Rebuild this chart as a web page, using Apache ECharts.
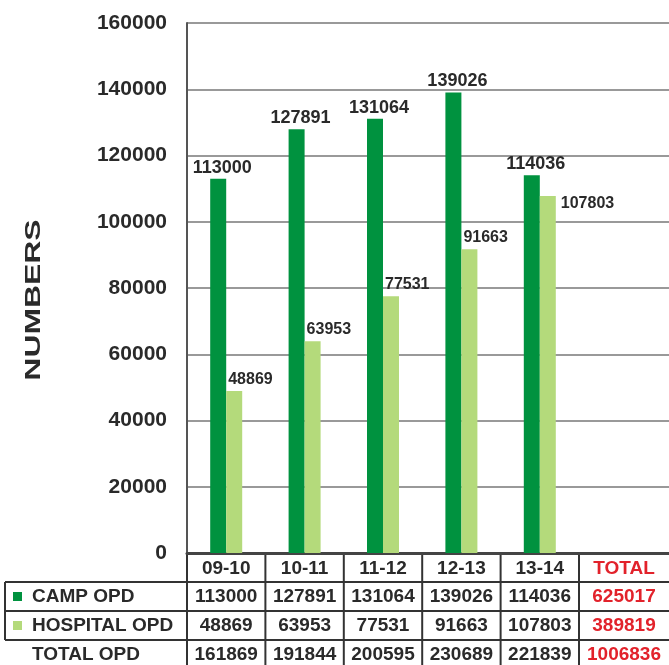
<!DOCTYPE html>
<html>
<head>
<meta charset="utf-8">
<script src="https://cdn.jsdelivr.net/npm/echarts@6/dist/echarts.min.js"></script>
<style>
  html, body { margin: 0; padding: 0; background: #fff; }
  #main { width: 669px; height: 665px; }
</style>
</head>
<body>
<div id="main"></div>
<script>
// values
const categories = ['09-10', '10-11', '11-12', '12-13', '13-14'];
const campOpd = [113000, 127891, 131064, 139026, 114036];
const hospitalOpd = [48869, 63953, 77531, 91663, 107803];
const totalOpd = [161869, 191844, 200595, 230689, 221839];
const totalHeader = ['TOTAL'];
const rowNames = ['CAMP OPD', 'HOSPITAL OPD', 'TOTAL OPD'];
const rowTotals = [625017, 389819, 1006836];
const yMin = 0, yMax = 160000, yStep = 20000;

const DARK = '#00923f';
const LIGHT = '#b4da7b';
const RED = '#e2222b';
const INK = '#2a2a2a';
const FONT = '"Liberation Sans", Arial, sans-serif';

// layout
const plotLeft = 187, plotTop = 23, plotH = 530, colW = 78.4;
const plotW = colW * categories.length;
const axisY = plotTop + plotH;
const rowTop = [582, 611, 640], rowH = 29;

var chart = echarts.init(document.getElementById('main'));

var gridLine = {lineStyle: {color: '#777', width: 1.5}};

var option = {
    animation: false,
    backgroundColor: '#fff',
    grid: [
        {left: plotLeft, top: plotTop, width: plotW, height: plotH},
        {left: plotLeft + plotW, top: plotTop, width: 669 - plotLeft - plotW, height: plotH}
    ],
    xAxis: [{
        type: 'category',
        gridIndex: 0,
        data: categories,
        axisLine: {lineStyle: {color: '#444', width: 3}},
        axisTick: {show: false},
        axisLabel: {color: INK, fontSize: 19, fontWeight: 'bold', fontFamily: FONT, margin: 6}
    }, {
        type: 'category',
        gridIndex: 1,
        data: totalHeader,
        axisLine: {lineStyle: {color: '#444', width: 3}},
        axisTick: {show: false},
        axisLabel: {color: RED, fontSize: 19, fontWeight: 'bold', fontFamily: FONT, margin: 6}
    }],
    yAxis: [{
        type: 'value',
        gridIndex: 0,
        min: yMin,
        max: yMax,
        interval: yStep,
        axisLine: {show: true, lineStyle: {color: '#555', width: 2}},
        axisTick: {show: false},
        splitLine: gridLine,
        axisLabel: {
            color: INK, fontSize: 21, fontWeight: 'bold', fontFamily: FONT, margin: 20,
            formatter: function (v) { return String(v); }
        }
    }, {
        type: 'value',
        gridIndex: 1,
        min: yMin,
        max: yMax,
        interval: yStep,
        axisLine: {show: false},
        axisTick: {show: false},
        axisLabel: {show: false},
        splitLine: gridLine
    }],
    series: [{
        name: 'CAMP OPD',
        type: 'bar',
        xAxisIndex: 0,
        yAxisIndex: 0,
        data: campOpd,
        barWidth: 16,
        barGap: '0%',
        itemStyle: {color: DARK},
        label: {
            show: true,
            position: 'top',
            distance: 2,
            offset: [4, 0],
            color: INK,
            fontSize: 18,
            fontWeight: 'bold',
            fontFamily: FONT
        }
    }, {
        name: 'HOSPITAL OPD',
        type: 'bar',
        xAxisIndex: 0,
        yAxisIndex: 0,
        barWidth: 16,
        barGap: '0%',
        itemStyle: {color: LIGHT},
        // last label sits beside its bar, as in the picture
        data: hospitalOpd.map(function (v, i) {
            if (i === hospitalOpd.length - 1) {
                return {value: v, label: {offset: [13, 20]}};
            }
            return v;
        }),
        label: {
            show: true,
            position: 'top',
            distance: 4,
            align: 'left',
            offset: [-6, 0],
            color: INK,
            fontSize: 16,
            fontWeight: 'bold',
            fontFamily: FONT
        }
    }]
};

chart.setOption(option);

// data table under the plot
var graphic = [];
var lineStyle = {stroke: '#333', lineWidth: 2};

rowTop.forEach(function (y) {
    graphic.push({type: 'line', shape: {x1: 5, y1: y, x2: 669, y2: y}, style: lineStyle});
});
for (var i = 0; i <= categories.length; i++) {
    var x = plotLeft + i * colW;
    graphic.push({type: 'line', shape: {x1: x, y1: axisY, x2: x, y2: 665}, style: lineStyle});
}
graphic.push({type: 'line', shape: {x1: 5, y1: rowTop[0], x2: 5, y2: rowTop[2]}, style: lineStyle});

var cellFont = 'bold 19px ' + FONT;
var rows = [campOpd, hospitalOpd, totalOpd];
var swatch = [DARK, LIGHT, null];

rows.forEach(function (vals, r) {
    var cy = rowTop[r] + rowH / 2;
    if (swatch[r]) {
        graphic.push({type: 'rect', shape: {x: 13, y: cy - 4.5, width: 9, height: 9}, style: {fill: swatch[r]}});
    }
    graphic.push({
        type: 'text',
        style: {text: rowNames[r], x: 32, y: cy, font: cellFont, fill: INK, textAlign: 'left', textVerticalAlign: 'middle'}
    });
    vals.forEach(function (v, c) {
        var cx = chart.convertToPixel({xAxisIndex: 0}, categories[c]);
        graphic.push({
            type: 'text',
            style: {text: String(v), x: cx, y: cy, font: cellFont, fill: INK, textAlign: 'center', textVerticalAlign: 'middle'}
        });
    });
    var tx = chart.convertToPixel({xAxisIndex: 1}, totalHeader[0]);
    graphic.push({
        type: 'text',
        style: {text: String(rowTotals[r]), x: tx, y: cy, font: cellFont, fill: RED, textAlign: 'center', textVerticalAlign: 'middle'}
    });
});

// y axis name, stretched like the original lettering
graphic.push({
    type: 'text',
    x: 34,
    y: 300,
    rotation: Math.PI / 2,
    scaleX: 1.45,
    style: {text: 'NUMBERS', x: 0, y: 0, font: 'bold 22px ' + FONT, fill: INK, textAlign: 'center', textVerticalAlign: 'middle'}
});

chart.setOption({graphic: graphic});
</script>
</body>
</html>
